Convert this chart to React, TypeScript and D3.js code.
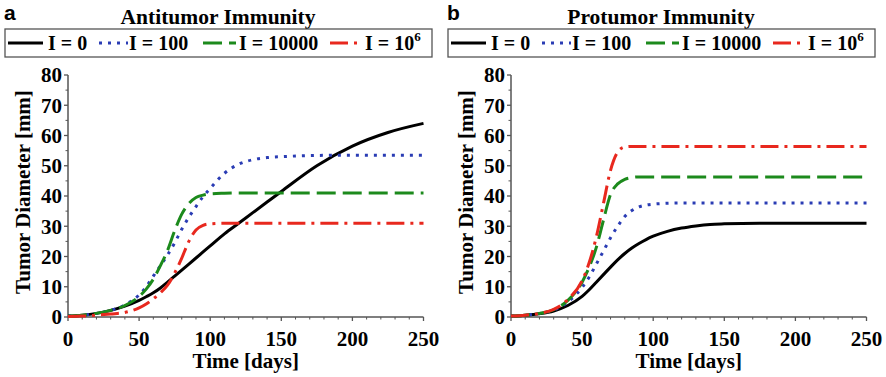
import React from 'react';
import * as d3 from 'd3';

// time grid (days) shared by every curve
const days = [0, 10, 20, 30, 40, 50, 55, 60, 65, 70, 75, 80, 85, 90, 95, 100, 110, 120, 130, 140, 150, 175, 200, 225, 250];

// a: antitumor immunity, tumor diameter [mm]
const antiI0 = [0.3, 0.6, 1.2, 2.2, 3.6, 5.5, 6.7, 8, 9.6, 11.5, 13.5, 15.5, 17.5, 19.5, 21.5, 23.5, 27.5, 31, 34.5, 38, 41.5, 50, 56.5, 61, 64];
const antiI100 = [0.3, 0.6, 1.2, 2.2, 4, 7.3, 10, 13.5, 17, 20.5, 24.5, 29, 33, 36.5, 39.8, 42.5, 47.5, 50.5, 52, 52.7, 53, 53.4, 53.5, 53.5, 53.5];
const antiI1e4 = [0.3, 0.6, 1.2, 2.2, 3.8, 6.8, 9.2, 12.5, 17, 22, 28.5, 34, 37.5, 39.5, 40.3, 40.7, 40.9, 41, 41, 41, 41, 41, 41, 41, 41];
const antiI1e6 = [0.2, 0.3, 0.6, 1.0, 1.5, 3, 4.3, 6, 8, 10.5, 14.5, 19.5, 25, 28.8, 30.3, 30.8, 31, 31, 31, 31, 31, 31, 31, 31, 31];

// b: protumor immunity
const proI0 = [0.3, 0.6, 1.1, 2, 3.8, 6.8, 9, 11.5, 14, 16.5, 18.9, 21, 22.8, 24.3, 25.6, 26.7, 28.3, 29.4, 30.1, 30.6, 30.8, 31, 31, 31, 31];
const proI100 = [0.3, 0.6, 1.2, 2.3, 5, 9.8, 13.2, 17.5, 21.8, 26.2, 30, 33.2, 35.2, 36.4, 37, 37.3, 37.6, 37.7, 37.7, 37.7, 37.7, 37.7, 37.7, 37.7, 37.7];
const proI1e4 = [0.3, 0.6, 1.2, 2.4, 5.5, 11.5, 16.5, 23, 32, 40.5, 44, 45.5, 46.1, 46.3, 46.3, 46.3, 46.3, 46.3, 46.3, 46.3, 46.3, 46.3, 46.3, 46.3, 46.3];
const proI1e6 = [0.3, 0.6, 1.2, 2.5, 5.8, 12, 18, 26.5, 37.5, 48.5, 54.5, 56.2, 56.4, 56.4, 56.4, 56.4, 56.4, 56.4, 56.4, 56.4, 56.4, 56.4, 56.4, 56.4, 56.4];

const xTicks = [0, 50, 100, 150, 200, 250];
const yTicks = [0, 10, 20, 30, 40, 50, 60, 70, 80];
const legendLabels = ['I = 0', 'I = 100', 'I = 10000', 'I = 10'];

const serif = '"Liberation Serif", "Times New Roman", serif';
const styles = [
  { color: '#000000', dash: null },
  { color: '#2a3cb4', dash: '3,6' },
  { color: '#1c8a1c', dash: '19,7' },
  { color: '#e8281e', dash: '18,6,3,6' },
];
// legend item positions relative to panel offset: [lineStart, lineEnd, textX]
const legendPos = [[8, 43, 48], [99, 128, 129], [203, 236, 239], [330, 362, 365]];

const Panel = ({ off, letter, title, series }) => {
  const x = d3.scaleLinear().domain([0, 250]).range([68 + off, 423.5 + off]);
  const y = d3.scaleLinear().domain([0, 80]).range([317, 75]);
  const line = d3.line().x((d, i) => x(days[i])).y(d => y(d)).curve(d3.curveMonotoneX);
  const xMinor = d3.range(0, 251, 10).filter(v => v % 50 !== 0);
  const yMinor = d3.range(5, 80, 10);

  return (
    <g>
      <text x={4 + off} y={20} fontFamily='"Liberation Sans", Arial, sans-serif' fontWeight="bold" fontSize={21}>{letter}</text>
      <text x={218 + off} y={24} textAnchor="middle" fontFamily={serif} fontWeight="bold" fontSize={21.5}>{title}</text>

      <rect x={5 + off} y={29} width={427} height={28} fill="none" stroke="#555" strokeWidth={1.3} />
      {legendLabels.map((lab, i) => (
        <g key={lab}>
          <line x1={legendPos[i][0] + off} x2={legendPos[i][1] + off} y1={43} y2={43}
            stroke={styles[i].color} strokeWidth={3} strokeDasharray={styles[i].dash || undefined} />
          <text x={legendPos[i][2] + off} y={50} fontFamily={serif} fontWeight="bold" fontSize={20}>
            {lab}{i === 3 && <tspan fontSize={13} dy={-9}>6</tspan>}
          </text>
        </g>
      ))}

      {/* axes */}
      <line x1={x(0)} x2={x(0)} y1={y(0)} y2={y(80)} stroke="#555" strokeWidth={1.5} />
      <line x1={x(0)} x2={x(250)} y1={y(0)} y2={y(0)} stroke="#555" strokeWidth={1.5} />
      {yTicks.map(t => (
        <g key={'y' + t}>
          <line x1={x(0) - 4} x2={x(0)} y1={y(t)} y2={y(t)} stroke="#555" strokeWidth={1.3} />
          <text x={x(0) - 6} y={y(t)} dy="0.35em" textAnchor="end" fontFamily={serif} fontWeight="bold" fontSize={21}>{t}</text>
        </g>
      ))}
      {yMinor.map(t => (
        <line key={'ym' + t} x1={x(0) - 2.5} x2={x(0)} y1={y(t)} y2={y(t)} stroke="#555" strokeWidth={1} />
      ))}
      {xTicks.map(t => (
        <g key={'x' + t}>
          <line x1={x(t)} x2={x(t)} y1={y(0)} y2={y(0) + 4} stroke="#555" strokeWidth={1.3} />
          <text x={x(t)} y={346} textAnchor="middle" fontFamily={serif} fontWeight="bold" fontSize={21}>{t}</text>
        </g>
      ))}
      {xMinor.map(t => (
        <line key={'xm' + t} x1={x(t)} x2={x(t)} y1={y(0)} y2={y(0) + 2.5} stroke="#555" strokeWidth={1} />
      ))}
      <text x={(x(0) + x(250)) / 2} y={368} textAnchor="middle" fontFamily={serif} fontWeight="bold" fontSize={21}>Time [days]</text>
      <text transform={`translate(${30 + off},${192}) rotate(-90)`} textAnchor="middle" fontFamily={serif} fontWeight="bold" fontSize={21}>Tumor Diameter [mm]</text>

      {series.map((s, i) => (
        <path key={i} d={line(s)} fill="none" stroke={styles[i].color} strokeWidth={3}
          strokeDasharray={styles[i].dash || undefined} />
      ))}
    </g>
  );
};

export default function App() {
  return (
    <svg width={886} height={377} style={{ position: 'absolute', left: 0, top: 0, background: '#fff' }}>
      <Panel off={0} letter="a" title="Antitumor Immunity" series={[antiI0, antiI100, antiI1e4, antiI1e6]} />
      <Panel off={443} letter="b" title="Protumor Immunity" series={[proI0, proI100, proI1e4, proI1e6]} />
    </svg>
  );
}
